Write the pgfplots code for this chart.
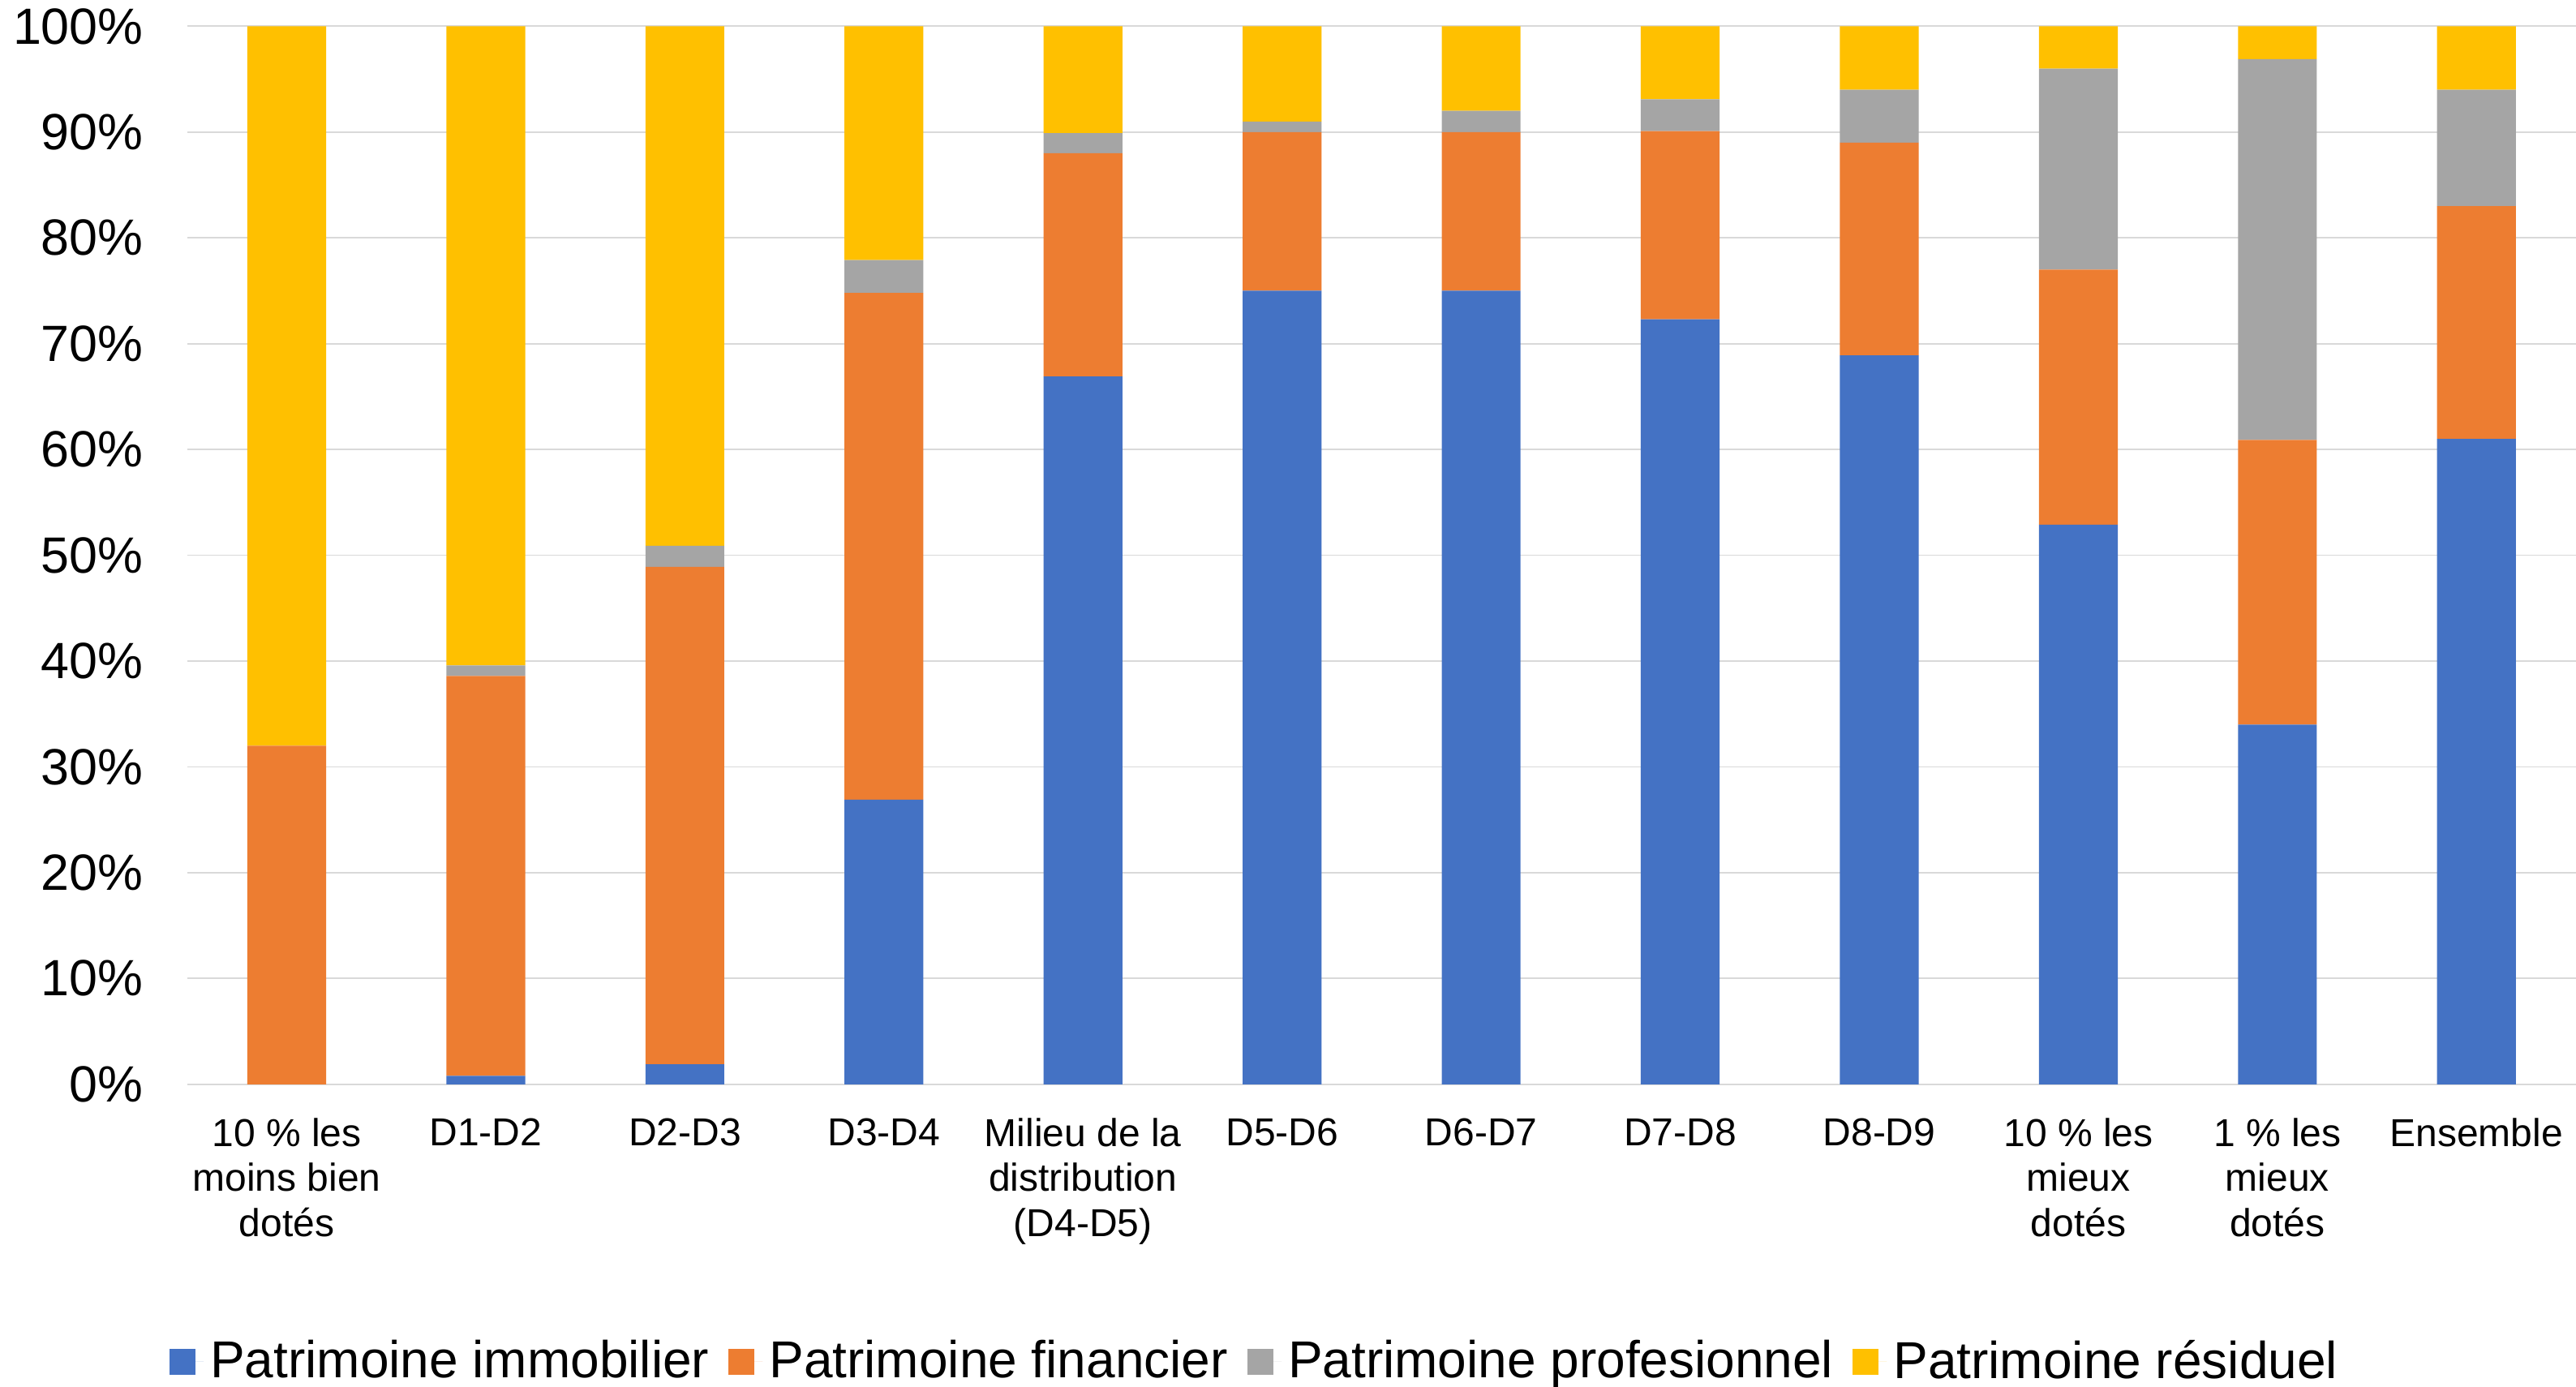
\documentclass[border=0pt]{standalone}
\usepackage{pgfplots}
\pgfplotsset{compat=1.18}
\usepackage{fontspec}
\setmainfont{Liberation Sans}
\definecolor{cImmo}{HTML}{4472C4}
\definecolor{cFin}{HTML}{ED7D31}
\definecolor{cPro}{HTML}{A5A5A5}
\definecolor{cRes}{HTML}{FFC000}
\definecolor{cGrid}{HTML}{D9D9D9}
\begin{document}
\begin{tikzpicture}
\begin{axis}[
  at={(0,0)}, anchor=south west,
  scale only axis,
  width=736.3pt, height=326.1pt,
  ybar stacked,
  bar width=24.3pt,
  xmin=-0.5, xmax=11.5,
  ymin=0, ymax=100,
  axis line style={draw=none},
  major tick length=0pt,
  ymajorgrids,
  grid style={color=cGrid, line width=0.45pt},
  ytick={0,10,...,100},
  yticklabels={0\%,10\%,20\%,30\%,40\%,50\%,60\%,70\%,80\%,90\%,100\%},
  yticklabel style={font=\fontsize{15.7}{18}\selectfont, xshift=-10pt},
  xtick={0,...,11},
  xticklabels={{10 \% les\\moins bien\\dotés},{D1-D2},{D2-D3},{D3-D4},{Milieu de la\\distribution\\(D4-D5)},{D5-D6},{D6-D7},{D7-D8},{D8-D9},{10 \% les\\mieux\\dotés},{1 \% les\\mieux\\dotés},{Ensemble}},
  xticklabel style={font=\fontsize{12}{13.8}\selectfont, align=center, yshift=-7pt},
  legend style={draw=none, at={(rel axis cs:0.4478,-0.262)}, anchor=center,
    font=\fontsize{16}{19}\selectfont,
    /tikz/every even column/.append style={column sep=4pt}},
  legend columns=-1,
  legend image code/.code={\fill[#1] (0pt,-4pt) rectangle (8pt,4pt); \path (0pt,0pt) -- (10.5pt,0pt);},
]
\addplot[fill=cImmo, draw=none] coordinates {(0,0) (1,0.8) (2,1.9) (3,26.9) (4,66.9) (5,75) (6,75) (7,72.3) (8,68.9) (9,52.9) (10,34) (11,61)};
\addplot[fill=cFin, draw=none] coordinates {(0,32) (1,37.8) (2,47.0) (3,47.9) (4,21.1) (5,15) (6,15) (7,17.8) (8,20.1) (9,24.1) (10,26.9) (11,22)};
\addplot[fill=cPro, draw=none] coordinates {(0,0) (1,1.0) (2,2.0) (3,3.1) (4,1.9) (5,1) (6,2) (7,3) (8,5) (9,19) (10,36) (11,11)};
\addplot[fill=cRes, draw=none] coordinates {(0,68) (1,60.4) (2,49.1) (3,22.1) (4,10.1) (5,9) (6,8) (7,6.9) (8,6) (9,4) (10,3.1) (11,6)};
\legend{Patrimoine immobilier, Patrimoine financier, Patrimoine profesionnel, Patrimoine résiduel}
\end{axis}
\pgfresetboundingbox
\path (-57.7pt,-93.3pt) rectangle (736.3pt,334.2pt);
\end{tikzpicture}
\end{document}
